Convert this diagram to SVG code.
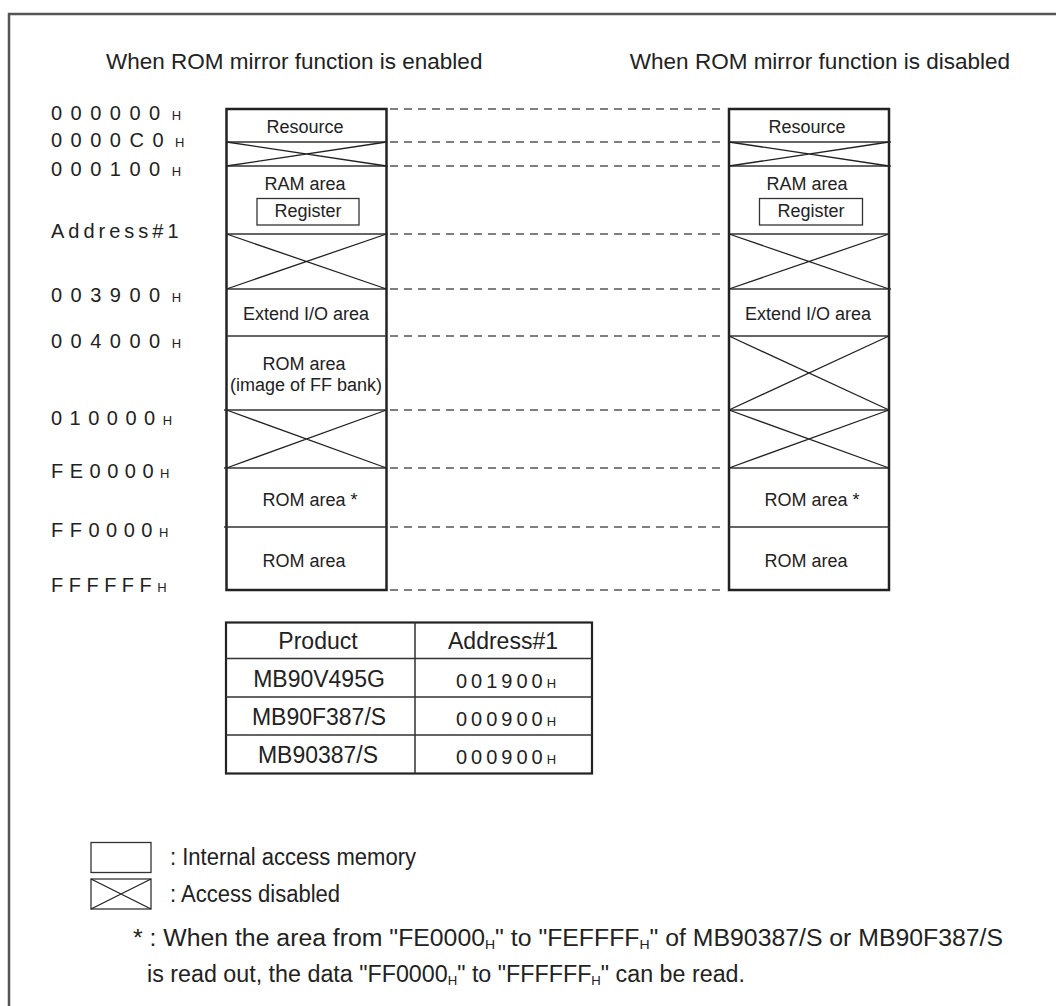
<svg xmlns="http://www.w3.org/2000/svg" width="1056" height="1006" viewBox="0 0 1056 1006">
<style>
text{font-family:"Liberation Sans",Arial,sans-serif;fill:#222}
.title{font-size:22.5px}
.addr{font-size:20px;letter-spacing:8.5px}
.addr2{font-size:20px;letter-spacing:7px}
.sub{font-size:13px;letter-spacing:0}
.blk{font-size:18px;text-anchor:middle}
.tbl{font-size:23px;text-anchor:middle}
.val{font-size:20px;letter-spacing:4px}
.leg{font-size:23px}
.foot{font-size:23px}
.outer{fill:#fff;stroke:#222;stroke-width:2.5}
.div{stroke:#333;stroke-width:1.3;fill:none}
.x{stroke:#222;stroke-width:1.3;fill:none}
.dash{stroke:#555;stroke-width:1.6;stroke-dasharray:8 6;fill:none}
.frame{stroke:#555;stroke-width:2.5;fill:none}
.reg{fill:none;stroke:#333;stroke-width:1.3}
</style>
<rect width="1056" height="1006" fill="#fff"/>
<path class="frame" d="M9,1006 V14 H1056"/>

<text class="title" x="106" y="69">When ROM mirror function is enabled</text>
<text class="title" x="1010" y="69" text-anchor="end">When ROM mirror function is disabled</text>

<g id="addresses">
<text class="addr" x="51" y="120">000000<tspan class="sub" dx="3">H</tspan></text>
<text class="addr" x="51" y="147">0000C0<tspan class="sub" dx="3">H</tspan></text>
<text class="addr" x="51" y="176">000100<tspan class="sub" dx="3">H</tspan></text>
<text class="addr" x="51" y="238" style="letter-spacing:4px">Address#1</text>
<text class="addr" x="51" y="302">003900<tspan class="sub" dx="3">H</tspan></text>
<text class="addr" x="51" y="348">004000<tspan class="sub" dx="3">H</tspan></text>
<text class="addr2" x="51" y="425" style="letter-spacing:7.5px">010000<tspan class="sub">H</tspan></text>
<text class="addr2" x="51" y="478" style="letter-spacing:6.5px">FE0000<tspan class="sub">H</tspan></text>
<text class="addr2" x="51" y="537" style="letter-spacing:6.5px">FF0000<tspan class="sub">H</tspan></text>
<text class="addr2" x="51" y="592" style="letter-spacing:5.5px">FFFFFF<tspan class="sub">H</tspan></text>
</g>

<g id="connectors">
<path class="dash" d="M390,109H722M390,142H722M390,166H722M390,234H722M390,289H722M390,336H722M390,410H722M390,468H722M390,527H722M390,590H722"/>
</g>

<g id="map-enabled">
<rect class="outer" x="226.5" y="109" width="160" height="481"/>
<path class="div" d="M226.5,142H386.5M226.5,166H388M226.5,234H388M226.5,289H386.5M226.5,336H386.5M224,410H386.5M224,468H386.5M224,527H386.5"/>
<path class="x" d="M226.5,142L386.5,166M386.5,142L226.5,166M226.5,234L386.5,289M386.5,234L226.5,289M226.5,410L386.5,468M386.5,410L226.5,468"/>
<text class="blk" x="305" y="133">Resource</text>
<text class="blk" x="305" y="190">RAM area</text>
<rect class="reg" x="257" y="198.5" width="102" height="26.5"/>
<text class="blk" x="308" y="217">Register</text>
<text class="blk" x="306" y="320">Extend I/O area</text>
<text class="blk" x="304" y="370">ROM area</text>
<text class="blk" x="306" y="391">(image of FF bank)</text>
<text class="blk" x="310" y="506">ROM area *</text>
<text class="blk" x="304" y="567">ROM area</text>
</g>

<g id="map-disabled">
<rect class="outer" x="729" y="109" width="160" height="481"/>
<path class="div" d="M729,142H891M729,166H891M729,234H889M729,289H891M729,336H889M729,410H889M729,468H889M729,527H889"/>
<path class="x" d="M729,142L889,166M889,142L729,166M729,234L889,289M889,234L729,289M729,336L889,410M889,336L729,410M729,410L889,468M889,410L729,468"/>
<text class="blk" x="807" y="133">Resource</text>
<text class="blk" x="807" y="190">RAM area</text>
<rect class="reg" x="759.5" y="198.5" width="103" height="26.5"/>
<text class="blk" x="811" y="217">Register</text>
<text class="blk" x="808" y="320">Extend I/O area</text>
<text class="blk" x="812" y="506">ROM area *</text>
<text class="blk" x="806" y="567">ROM area</text>
</g>

<g id="table">
<rect x="226" y="622.5" width="366" height="151" fill="none" stroke="#222" stroke-width="2.2"/>
<path d="M415,622.5V773.5M226,658.5H592M226,697H592M226,735H592" stroke="#333" stroke-width="1.5" fill="none"/>
<text class="tbl" x="318" y="649">Product</text>
<text class="tbl" x="503" y="649">Address#1</text>
<text class="tbl" x="319" y="687">MB90V495G</text>
<text class="tbl" x="319" y="725">MB90F387/S</text>
<text class="tbl" x="318" y="763">MB90387/S</text>
<text class="val" x="456" y="688">001900<tspan class="sub">H</tspan></text>
<text class="val" x="456" y="726">000900<tspan class="sub">H</tspan></text>
<text class="val" x="456" y="764">000900<tspan class="sub">H</tspan></text>
</g>

<g id="legend">
<rect x="91" y="842.5" width="60" height="30" fill="none" stroke="#333" stroke-width="1.3"/>
<rect x="91" y="879" width="60" height="30" fill="none" stroke="#333" stroke-width="1.3"/>
<path class="x" d="M91,879L151,909M151,879L91,909"/>
<text class="leg" x="170" y="865" textLength="246" lengthAdjust="spacingAndGlyphs">: Internal access memory</text>
<text class="leg" x="170" y="902" textLength="170" lengthAdjust="spacingAndGlyphs">: Access disabled</text>
</g>

<g id="footnote">
<text class="foot" x="133" y="946" textLength="870" lengthAdjust="spacingAndGlyphs">* : When the area from "FE0000<tspan class="sub" dy="3">H</tspan><tspan dy="-3">" to "FEFFFF</tspan><tspan class="sub" dy="3">H</tspan><tspan dy="-3">" of MB90387/S or MB90F387/S</tspan></text>
<text class="foot" x="147" y="982" textLength="598" lengthAdjust="spacingAndGlyphs">is read out, the data "FF0000<tspan class="sub" dy="3">H</tspan><tspan dy="-3">" to "FFFFFF</tspan><tspan class="sub" dy="3">H</tspan><tspan dy="-3">" can be read.</tspan></text>
</g>
</svg>
